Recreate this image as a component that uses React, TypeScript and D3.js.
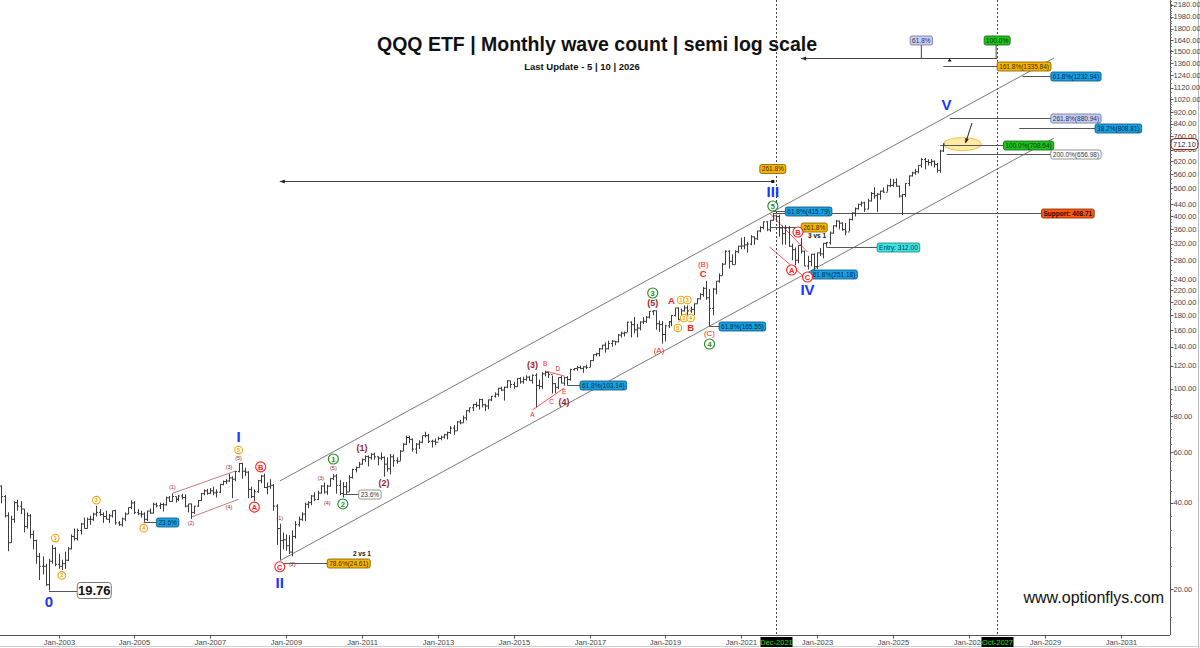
import * as d3 from "d3";

const FONT = "'Liberation Sans', Arial, Helvetica, sans-serif";
const W = 1200;
const H = 648;
const PLOT_R = 1170;
const PLOT_B = 635;

// QQQ monthly bars, Jun-2001 .. May-2026 (open = prior close)
const firstMonth = "2001-06";
const firstOpen = 43.0;

const highs = [
  /* 2001 */ 47.5, 46, 42.5, 37, 36, 40.5, 41,
  /* 2002 */ 40.5, 38, 37, 36.5, 32, 29.7, 26.7, 26, 24.5, 25.5, 28.5, 28,
  /* 2003 */ 26.5, 25.3, 27, 28, 31, 32.5, 32.5, 34, 35.5, 35.5, 36, 36.9,
  /* 2004 */ 39, 38, 37, 37.5, 36.5, 37.5, 37.8, 34.5, 35.5, 37, 38.5, 40.8,
  /* 2005 */ 40.5, 38, 37.5, 37, 37.5, 38.2, 40, 40, 40, 40, 42, 42.2,
  /* 2006 */ 43, 42, 42.5, 43, 42.8, 39.6, 39.7, 39, 40.8, 43.2, 44.5, 44.7,
  /* 2007 */ 45, 45.5, 44.5, 46.5, 47.8, 48.3, 50.5, 49.4, 51.5, 55, 55.1, 53,
  /* 2008 */ 51.5, 45.5, 44.5, 48, 50, 50.5, 47, 48.3, 46.5, 39.5, 33.8, 31.5,
  /* 2009 */ 31, 30.8, 32, 34.5, 35.8, 37, 40, 40.5, 42.5, 43.5, 44, 46,
  /* 2010 */ 47, 46.2, 48.8, 50.3, 50.3, 47.9, 47.2, 47.2, 49.9, 52.5, 53.5, 55.5,
  /* 2011 */ 57, 58.5, 58.5, 59.5, 59.8, 58, 59.9, 58, 57.6, 59.2, 59, 57.5,
  /* 2012 */ 61, 64.5, 68.5, 68.5, 67, 64.5, 66, 68.5, 70.7, 69.5, 66.3, 67,
  /* 2013 */ 68, 68.5, 69.5, 70.8, 74, 74.6, 77, 77.8, 80.5, 84, 85.8, 88.5,
  /* 2014 */ 89.7, 92.2, 92.2, 88.5, 91.5, 94.2, 97, 100.5, 101.5, 101.5, 107, 106.5,
  /* 2015 */ 105.5, 108.7, 109.5, 110, 111.2, 110.8, 112, 113, 107.4, 114, 115.2, 114.5,
  /* 2016 */ 111, 104.5, 109, 110.5, 110, 110.5, 117.2, 118, 120, 120.2, 119.6, 121.2,
  /* 2017 */ 125.5, 131.5, 133.2, 138.5, 142, 145, 147, 147.6, 146.5, 155, 158, 158,
  /* 2018 */ 171, 171.5, 177.6, 168, 171.5, 177.5, 179, 186.5, 187.5, 187.3, 172.5, 172,
  /* 2019 */ 167, 172, 180.5, 191, 192, 190, 195, 195, 193, 198, 206.5, 215,
  /* 2020 */ 226, 237.5, 222.5, 224.5, 237, 252, 274, 303.5, 303.5, 293.5, 303.5, 315,
  /* 2021 */ 336, 338, 325, 342.5, 339, 355, 368, 382.5, 382.8, 387, 408.7, 404,
  /* 2022 */ 404, 370.5, 371.5, 369, 320, 310.5, 316.5, 334.5, 302.5, 290.5, 295, 296,
  /* 2023 */ 298, 309, 322, 324.5, 353, 370.5, 387.5, 385, 380, 378, 391, 411.5,
  /* 2024 */ 428, 441, 449.3, 448, 459, 484.5, 503.5, 480, 490.5, 502.5, 514, 539.2,
  /* 2025 */ 538.5, 540.8, 510.5, 477, 520, 553.5, 570.5, 583.3, 601, 637, 637, 630,
  /* 2026 */ 632, 625, 612, 680, 716,
];

const lows = [
  /* 2001 */ 40.5, 39.8, 35.5, 27.1, 29, 34, 37.5,
  /* 2002 */ 36.5, 31.5, 32.5, 30, 27.5, 24.5, 21.5, 22.5, 20.5, 19.76, 24.5, 24,
  /* 2003 */ 23.5, 23.3, 23.5, 25, 27.5, 29.5, 29.5, 31, 32.5, 32.5, 33.5, 34.5,
  /* 2004 */ 35.8, 36, 34, 35, 34, 35.5, 33.5, 33.2, 33, 34.5, 36.5, 38,
  /* 2005 */ 36.5, 36.2, 35.5, 34.3, 34.5, 36.5, 36.6, 38.5, 38, 37.3, 39.1, 40.3,
  /* 2006 */ 40.3, 40, 40.5, 41, 38.5, 37, 35.1, 36.5, 38.7, 40.5, 42.5, 42.6,
  /* 2007 */ 43, 42.5, 41.7, 43.2, 46, 46.5, 47.3, 41.5, 47.5, 51, 48.5, 49.5,
  /* 2008 */ 41.5, 41.5, 40.5, 43.3, 46.8, 45, 42.8, 44.7, 37.5, 28.5, 25.3, 27.5,
  /* 2009 */ 27.2, 26.5, 26, 30, 33, 34.5, 34.5, 38.3, 39.2, 40.5, 40.9, 43,
  /* 2010 */ 43, 42.6, 45.5, 48, 43, 42.5, 41.7, 42.8, 43.7, 48.5, 51, 53,
  /* 2011 */ 54.3, 55.5, 53.5, 56.5, 56.5, 54, 56.3, 49.3, 51.3, 50.2, 53.3, 54.7,
  /* 2012 */ 56, 60.5, 63.5, 64.5, 60.3, 59.2, 61.5, 64.5, 67.5, 64.5, 62.3, 63.5,
  /* 2013 */ 66, 66, 67, 66.5, 69.5, 69, 71.3, 75, 76, 77.5, 82.5, 83.5,
  /* 2014 */ 86, 84.5, 86, 83.5, 84.7, 90.3, 93, 93.8, 98, 90.8, 100.5, 100.5,
  /* 2015 */ 99.8, 101.5, 104, 104, 106.5, 106.5, 104, 86, 99.4, 99.5, 110.4, 108.8,
  /* 2016 */ 96.1, 96.3, 99.5, 104.3, 102.5, 102.8, 106.5, 115.5, 115.4, 116.8, 113.5, 117,
  /* 2017 */ 118.8, 125, 129.5, 129.5, 136.8, 133.5, 137, 139.8, 141.5, 145, 150.6, 152,
  /* 2018 */ 157.5, 150.7, 155.5, 150.8, 159.5, 168, 169.5, 175.5, 180.5, 160.5, 157.8, 143.5,
  /* 2019 */ 146, 162.5, 165, 178.5, 173.3, 172.5, 185.5, 179.8, 183.5, 180.5, 197.5, 204.5,
  /* 2020 */ 209, 204, 164.9, 180, 213, 234, 248, 271, 262, 270, 271, 296.5,
  /* 2021 */ 306, 306, 297.5, 316, 317.5, 329.5, 351, 359, 354, 352, 384.5, 381,
  /* 2022 */ 338.5, 317.5, 317.5, 312, 280, 269.3, 273.5, 296, 267.5, 260.1, 267, 259.5,
  /* 2023 */ 261, 290, 284.5, 312, 317.5, 346.5, 365, 359, 355.5, 342.3, 353.5, 385.5,
  /* 2024 */ 398, 420.5, 431, 413, 421.5, 449.5, 459, 413, 456, 482, 486, 504,
  /* 2025 */ 505, 505.5, 464, 402.4, 466, 508, 549, 556.5, 563, 589, 581, 600,
  /* 2026 */ 598, 590, 566, 565, 668,
];

const closes = [
  /* 2001 */ 45.7, 42, 36, 29, 35, 40, 38.9,
  /* 2002 */ 38, 33, 36, 31, 29.5, 26, 24, 24, 20.7, 25, 27.7, 24.4,
  /* 2003 */ 24, 24.5, 25.2, 27.6, 30.5, 30, 32, 33.7, 32.5, 35, 35, 36.5,
  /* 2004 */ 37, 36.4, 35.8, 35, 36, 37.5, 34, 33.5, 35.1, 36.5, 38.5, 39.9,
  /* 2005 */ 37, 36.6, 36.5, 35, 37.4, 36.8, 39.5, 39, 39.4, 39.3, 41.6, 40.4,
  /* 2006 */ 42, 41.1, 42.2, 41.7, 38.9, 39.6, 37, 38.9, 40.7, 43, 44, 43.1,
  /* 2007 */ 44, 43.3, 43.5, 46.3, 47.4, 47.6, 48.8, 48.3, 51.4, 54.8, 51.5, 51.1,
  /* 2008 */ 44.5, 42, 43.7, 47.7, 49.5, 45.2, 45.5, 46, 38.9, 32.5, 29.5, 29.7,
  /* 2009 */ 28.3, 26.9, 30.5, 33.5, 35, 36.5, 39.5, 40, 42.2, 41, 43.2, 45.7,
  /* 2010 */ 43.6, 45.7, 48.5, 49.5, 46, 43.1, 45.5, 43.6, 49, 52.2, 53, 54.5,
  /* 2011 */ 56.5, 58, 57.4, 59, 57.8, 57.2, 57.5, 54.5, 52.5, 57.8, 56, 55.8,
  /* 2012 */ 60.5, 64, 67.5, 66.5, 61.5, 64, 65, 68.5, 68.5, 65.5, 65.5, 65,
  /* 2013 */ 67, 67.7, 69, 70.3, 72.8, 71.2, 76.5, 75.9, 79, 83.7, 85.7, 88,
  /* 2014 */ 87.3, 91.5, 87.7, 86.9, 91.3, 94, 95.6, 100.2, 98.8, 101.1, 106.4, 103.3,
  /* 2015 */ 101.6, 108.4, 105.6, 107.6, 109.5, 106.8, 111.2, 102.5, 101.7, 112.5, 113.7, 111.9,
  /* 2016 */ 104, 101, 109.3, 104.5, 109.2, 107.5, 116.5, 117.5, 118.5, 117.6, 119, 118.5,
  /* 2017 */ 125.2, 131.3, 132.3, 137.5, 141.7, 137.6, 143.5, 146.3, 145.5, 153.6, 156, 156.5,
  /* 2018 */ 170.4, 167, 160.2, 162.5, 170.6, 171.6, 177.5, 186, 186.8, 168.4, 167.2, 154.3,
  /* 2019 */ 165.5, 170.8, 179.7, 191, 173.9, 186.7, 191.1, 186.5, 188.8, 197.5, 205.5, 212.6,
  /* 2020 */ 223.7, 207.2, 190.4, 222.3, 236.9, 247.6, 271.4, 301.2, 277.8, 270.5, 299.9, 313.7,
  /* 2021 */ 314, 317, 319, 338, 333, 354.4, 364.6, 381.4, 357.9, 386.1, 400.1, 397.9,
  /* 2022 */ 363, 346.5, 362.5, 313.5, 305, 280.3, 315.3, 301.5, 267.3, 277.5, 293.9, 266.3,
  /* 2023 */ 297.3, 294.6, 320.9, 322.6, 348.4, 369.4, 383.7, 377.4, 358.3, 351.7, 388.8, 409.5,
  /* 2024 */ 423.8, 439, 444, 422.5, 451, 479.1, 470.5, 476, 488, 483.9, 509.7, 511.2,
  /* 2025 */ 522.3, 508.2, 468.9, 475, 519.1, 551.6, 565, 570.4, 600.4, 629, 619, 614,
  /* 2026 */ 620, 605, 577, 674, 712.1,
];

const lastPrice = 712.1;

const priceTicks = [
  20, 40, 60, 80, 100, 120, 140, 160, 180, 200, 220, 240, 280, 320, 360, 400, 440, 500,
  560, 620, 680, 760, 840, 920, 1020, 1120, 1240, 1360, 1500, 1640, 1800, 1980, 2180,
];
const yearTicks = [2003, 2005, 2007, 2009, 2011, 2013, 2015, 2017, 2019, 2021, 2023, 2025, 2027, 2029, 2031];
const cycleDates = ["2021-12", "2027-10"];

// elliott wave labels: month, price position, text, style
const waveLabels: [string, number, string, string][] = [
  ["2002-10", 18.0, "0", "major"],
  ["2007-10", 67.8, "I", "major"],
  ["2008-11", 21.1, "II", "major"],
  ["2021-11", 484.7, "III", "major"],
  ["2022-10", 220.6, "IV", "major"],
  ["2026-06", 974, "V", "major"],
  ["2010-04", 56.8, "1", "green"],
  ["2010-07", 39.6, "2", "green"],
  ["2018-09", 215.4, "3", "green"],
  ["2020-03", 143, "4", "green"],
  ["2021-11", 433, "5", "green"],
  ["2002-12", 30.1, "1", "orange"],
  ["2003-02", 22.3, "2", "orange"],
  ["2004-01", 40.8, "3", "orange"],
  ["2005-04", 32.6, "4", "orange"],
  ["2007-10", 61.0, "5", "orange"],
  ["2019-06", 203.6, "1", "orange"],
  ["2019-07", 176.2, "2", "orange"],
  ["2019-08", 203.6, "3", "orange"],
  ["2019-09", 176.2, "4", "orange"],
  ["2019-05", 162.6, "5", "orange"],
  ["2008-03", 38.6, "A", "redc"],
  ["2008-05", 53.3, "B", "redc"],
  ["2008-11", 23.9, "C", "redc"],
  ["2022-05", 259, "A", "redc"],
  ["2022-07", 351.5, "B", "redc"],
  ["2022-10", 244.9, "C", "redc"],
  ["2019-03", 202, "A", "red"],
  ["2019-09", 163.4, "B", "red"],
  ["2020-01", 271.9, "(B)", "redp"],
  ["2020-01", 250.9, "C", "red"],
  ["2020-03", 156.2, "(C)", "redp"],
  ["2018-11", 136.3, "(A)", "redp"],
  ["2015-07", 80.9, "A", "redsm"],
  ["2015-11", 121.8, "B", "redsm"],
  ["2016-01", 89.8, "C", "redsm"],
  ["2016-03", 117, "D", "redsm"],
  ["2016-05", 97.3, "E", "redsm"],
  ["2011-01", 62.2, "(1)", "maroon"],
  ["2011-08", 46.9, "(2)", "maroon"],
  ["2015-07", 120.8, "(3)", "maroon"],
  ["2016-05", 89.8, "(4)", "maroon"],
  ["2018-09", 198.7, "(5)", "maroon"],
  ["2006-01", 45.3, "(1)", "maroonsm"],
  ["2006-07", 34.0, "(2)", "maroonsm"],
  ["2007-07", 53.3, "(3)", "maroonsm"],
  ["2007-07", 38.6, "(4)", "maroonsm"],
  ["2007-10", 57.3, "(5)", "maroonsm"],
  ["2008-11", 35.3, "(1)", "maroonsm"],
  ["2009-03", 24.4, "(2)", "maroonsm"],
  ["2009-12", 48.9, "(3)", "maroonsm"],
  ["2010-02", 39.9, "(4)", "maroonsm"],
  ["2010-04", 52.9, "(5)", "maroonsm"],
];

// fib / level boxes: text, price, line start month, box left month, style
const levelBoxes: [string, number, string, string, string][] = [
  ["161.8%(1335.84)", 1335.84, "2026-05", "2027-10", "gold"],
  ["61.8%(1232.94)", 1232.94, "2028-06", "2029-03", "blue"],
  ["261.8%(880.94)", 880.94, "2026-07", "2029-03", "lilac"],
  ["38.2%(808.81)", 808.81, "2028-05", "2030-05", "blue"],
  ["100.0%(708.64)", 708.64, "2026-04", "2027-12", "green"],
  ["200.0%(656.98)", 656.98, "2026-06", "2029-03", "white"],
  ["Support: 408.71", 408.71, "2021-11", "2028-12", "support"],
  ["61.8%(415.79)", 415.79, "2021-11", "2022-03", "blue"],
  ["261.8%", 365.9, "2021-10", "2022-08", "gold"],
  ["Entry: 312.00", 312, "2023-04", "2024-08", "cyan"],
  ["61.8%(251.18)", 251.18, "2022-10", "2022-11", "blue"],
  ["61.8%(165.55)", 165.55, "2020-03", "2020-06", "blue"],
  ["61.8%(103.14)", 103.14, "2016-06", "2016-10", "blue"],
  ["23.6%", 42.9, "2010-07", "2010-12", "white"],
  ["78.6%(24.61)", 24.61, "2008-11", "2010-02", "gold"],
  ["23.6%", 34.3, "2005-04", "2005-08", "blue"],
];

// boxes centred on a month (no leader line)
const topBoxes: [string, number, string, string][] = [
  ["61.8%", 1636, "2025-10", "lilac"],
  ["100.0%", 1636, "2027-10", "green"],
  ["261.8%", 583, "2021-11", "gold"],
];

// trend channel and pattern lines: [month, price] -> [month, price], colour
const trendLines: [string, number, string, number, string][] = [
  ["2008-11", 47.6, "2029-04", 1421, "#7a7a7a"],
  ["2008-11", 25.1, "2029-04", 747.6, "#7a7a7a"],
  ["2021-10", 408.7, "2022-10", 299.4, "#ff4040"],
  ["2021-10", 311.6, "2022-09", 244.9, "#ff4040"],
  ["2015-07", 84.2, "2016-05", 100.4, "#ff4040"],
  ["2015-11", 115.1, "2016-05", 110.6, "#ff4040"],
  ["2006-01", 43.1, "2007-09", 51.6, "#c46a6a"],
  ["2006-07", 35.6, "2007-10", 41.1, "#c46a6a"],
  ["2019-05", 169.5, "2019-09", 190.4, "#f5a000"],
];

// long horizontal projections with arrow heads at their left ends
const arrowLines: [string, string, number][] = [
  ["2022-08", "2027-10", 1421],
  ["2008-11", "2021-11", 529.4],
];

const textNotes: [string, number, string][] = [
  ["2011-01", 26.5, "2 vs 1"],
  ["2023-01", 340.4, "3 vs 1"],
];

const boxStyles: Record<string, { fill: string; stroke: string; color: string; weight?: string }> = {
  gold: { fill: "#f7b500", stroke: "#7a5a00", color: "#3a2a00" },
  blue: { fill: "#16a3e6", stroke: "#0b4f75", color: "#0a2340" },
  lilac: { fill: "#c8cff2", stroke: "#6a6f95", color: "#2a2f55" },
  green: { fill: "#1dc41d", stroke: "#145f14", color: "#053005" },
  white: { fill: "#ffffff", stroke: "#7a7a7a", color: "#333333" },
  cyan: { fill: "#3fe4e4", stroke: "#1d7c7c", color: "#053a3a" },
  support: { fill: "#ff5a0a", stroke: "#7a2500", color: "#1a0a00", weight: "bold" },
};

const parseMonth = d3.utcParse("%Y-%m");
const m = (s: string) => parseMonth(s) as Date;

let ctx: CanvasRenderingContext2D | null = null;
function textWidth(s: string, font: string): number {
  if (!ctx) ctx = document.createElement("canvas").getContext("2d");
  if (!ctx) return s.length * 4;
  ctx.font = font;
  return ctx.measureText(s).width;
}

function LevelBox({ x, cy, text, kind, size = 6.5, center = false }: {
  x: number; cy: number; text: string; kind: string; size?: number; center?: boolean;
}) {
  const st = boxStyles[kind];
  const weight = st.weight ?? "normal";
  const w = textWidth(text, `${weight} ${size}px ${FONT}`) + 4;
  const h = size + 2.5;
  const left = center ? x - w / 2 : x;
  return (
    <g>
      <rect x={left} y={cy - h / 2} width={w} height={h} rx={2} fill={st.fill} stroke={st.stroke} strokeWidth={0.8} />
      <text x={left + w / 2} y={cy} dy="0.35em" textAnchor="middle" fontSize={size} fontWeight={weight} fill={st.color}>
        {text}
      </text>
    </g>
  );
}

function WaveLabel({ x, y, text, kind }: { x: number; y: number; text: string; kind: string }) {
  if (kind === "major")
    return <text x={x} y={y} dy="0.35em" textAnchor="middle" fontSize={15} fontWeight="bold" fill="#1a35ff">{text}</text>;
  if (kind === "green" || kind === "orange" || kind === "redc") {
    const col = kind === "green" ? "#1c8a1c" : kind === "orange" ? "#f5a000" : "#ff2020";
    const r = kind === "orange" ? 3.8 : 5;
    const fs = kind === "orange" ? 5.5 : 7.5;
    return (
      <g>
        <circle cx={x} cy={y} r={r} fill="#fff" stroke={col} strokeWidth={1.1} />
        <text x={x} y={y} dy="0.36em" textAnchor="middle" fontSize={fs} fontWeight="bold" fill={col}>{text}</text>
      </g>
    );
  }
  const look: Record<string, [number, string, string]> = {
    red: [9.5, "bold", "#ff2020"],
    redp: [8, "normal", "#ff2020"],
    redsm: [6.5, "normal", "#ff2020"],
    maroon: [9, "bold", "#9c1f2e"],
    maroonsm: [5.5, "normal", "#9c1f2e"],
  };
  const [fs, fw, col] = look[kind];
  return <text x={x} y={y} dy="0.35em" textAnchor="middle" fontSize={fs} fontWeight={fw} fill={col}>{text}</text>;
}

export default function App() {
  const x = d3.scaleUtc().domain([m("2003-01"), m("2031-01")]).range([58.5, 1120.5]);
  const y = d3.scaleLog().domain([20, 1240]).range([589, 75]);

  const t0 = m(firstMonth);
  const bars = closes.map((c, i) => ({
    date: d3.utcMonth.offset(t0, i),
    open: i === 0 ? firstOpen : closes[i - 1],
    high: highs[i],
    low: lows[i],
    close: c,
  }));

  let barPath = "";
  for (const b of bars) {
    const bx = Math.round(x(b.date)) + 0.5;
    barPath += `M${bx},${y(b.high)}V${y(b.low)}M${bx - 1.5},${y(b.open)}H${bx}M${bx},${y(b.close)}H${bx + 1.5}`;
  }

  const minorTicks = [
    ...d3.range(16, 100, 4),
    ...d3.range(100, 400, 10),
    ...d3.range(400, 1000, 20),
    ...d3.range(1000, 2300, 40),
  ].filter((v) => y(v) > 0 && y(v) < PLOT_B);

  const fmtTick = d3.utcFormat("%b-%Y");
  const ell = { cx: x(m("2026-11")), cy: y(lastPrice) };
  const arrowFrom = { x: x(m("2027-02")), y: y(843.6) };
  const arrowTo = { x: x(m("2026-12")), y: y(718) };
  const ang = Math.atan2(arrowTo.y - arrowFrom.y, arrowTo.x - arrowFrom.x);

  return (
    <svg
      width={W}
      height={H}
      viewBox={`0 0 ${W} ${H}`}
      style={{ position: "absolute", left: 0, top: 0, background: "#fff" }}
      fontFamily={FONT}
    >
      <defs>
        <clipPath id="plot">
          <rect x={0} y={0} width={PLOT_R} height={PLOT_B} />
        </clipPath>
      </defs>

      {/* title */}
      <text x={597} y={51} textAnchor="middle" fontSize={19.5} fontWeight="bold" fill="#111">
        QQQ ETF | Monthly wave count | semi log scale
      </text>
      <text x={582} y={70} textAnchor="middle" fontSize={9.5} fontWeight="bold" fill="#111">
        Last Update - 5 | 10 | 2026
      </text>

      {/* cycle date markers */}
      {cycleDates.map((d) => (
        <line key={d} x1={Math.round(x(m(d))) + 0.5} x2={Math.round(x(m(d))) + 0.5} y1={0} y2={PLOT_B}
          stroke="#444" strokeWidth={1} strokeDasharray="2,2" />
      ))}

      <g clipPath="url(#plot)">
        {/* channel & pattern lines */}
        {trendLines.map(([d1, v1, d2, v2, c], i) => (
          <line key={i} x1={x(m(d1))} y1={y(v1)} x2={x(m(d2))} y2={y(v2)} stroke={c} strokeWidth={i < 2 ? 1 : 0.9} />
        ))}

        {/* projection arrows */}
        {arrowLines.map(([d1, d2, v], i) => {
          const x1 = x(m(d1));
          const yy = Math.round(y(v)) + 0.5;
          return (
            <g key={i}>
              <line x1={x1} x2={x(m(d2))} y1={yy} y2={yy} stroke="#444" strokeWidth={1} />
              <path d={`M${x1},${yy}L${x1 + 5},${yy - 2}L${x1 + 5},${yy + 2}Z`} fill="#222" />
            </g>
          );
        })}
        <rect x={x(m("2021-11")) - 1.5} y={y(529.4) - 1} width={3} height={3} fill="#111" />
        <path d={`M${x(m("2026-07"))},${y(1421) + 0.5}l-2,3h4z`} fill="#111" />
        {/* connectors from top boxes */}
        <line x1={x(m("2025-10"))} x2={x(m("2025-10"))} y1={y(1636) + 4} y2={y(1421)} stroke="#444" />
        <line x1={x(m("2027-10")) - 1} x2={x(m("2027-10")) - 1} y1={y(1636) + 4} y2={y(1421)} stroke="#444" />

        {/* level leader lines */}
        {levelBoxes.map(([t, v, d1, d2], i) => {
          const yy = Math.round(y(v)) + 0.5;
          return <line key={i} x1={x(m(d1))} x2={x(m(d2))} y1={yy} y2={yy} stroke="#555" strokeWidth={1} />;
        })}
        {/* 19.76 leader */}
        <line x1={x(m("2002-10"))} x2={x(m("2003-07"))} y1={Math.round(y(19.76)) + 0.5} y2={Math.round(y(19.76)) + 0.5} stroke="#555" />

        {/* target ellipse */}
        <ellipse cx={ell.cx} cy={ell.cy} rx={19} ry={6.5} fill="#fde58a" fillOpacity={0.75} stroke="#f2c14e" strokeWidth={1} />
        <line x1={x(m("2026-04"))} x2={x(m("2027-12"))} y1={Math.round(y(708.64)) + 0.5} y2={Math.round(y(708.64)) + 0.5} stroke="#555" />

        {/* bars */}
        <path d={barPath} fill="none" stroke="#3c3c3c" strokeWidth={1} />

        <line x1={arrowFrom.x} y1={arrowFrom.y} x2={arrowTo.x} y2={arrowTo.y} stroke="#222" strokeWidth={1} />
        <path
          d={`M${arrowTo.x},${arrowTo.y}L${arrowTo.x - 5 * Math.cos(ang - 0.4)},${arrowTo.y - 5 * Math.sin(ang - 0.4)}L${arrowTo.x - 5 * Math.cos(ang + 0.4)},${arrowTo.y - 5 * Math.sin(ang + 0.4)}Z`}
          fill="#222"
        />

        {/* level boxes */}
        {levelBoxes.map(([t, v, , d2, k], i) => (
          <LevelBox key={i} x={x(m(d2))} cy={Math.round(y(v)) + 0.5} text={t} kind={k} />
        ))}
        {topBoxes.map(([t, v, d, k], i) => (
          <LevelBox key={i} x={x(m(d))} cy={y(v)} text={t} kind={k} center />
        ))}

        {/* 19.76 low */}
        <g>
          <rect x={x(m("2003-07"))} y={y(19.76) - 8} width={34} height={16} rx={3} fill="#fff" stroke="#777" strokeWidth={1} />
          <text x={x(m("2003-07")) + 17} y={y(19.76)} dy="0.36em" textAnchor="middle" fontSize={13} fontWeight="bold" fill="#111">19.76</text>
        </g>

        {/* wave labels */}
        {waveLabels.map(([d, v, t, k], i) => (
          <WaveLabel key={i} x={x(m(d))} y={y(v)} text={t} kind={k} />
        ))}
        {textNotes.map(([d, v, t], i) => (
          <text key={i} x={x(m(d))} y={y(v)} dy="0.35em" textAnchor="middle" fontSize={6.5} fontWeight="bold" fill="#111">{t}</text>
        ))}
      </g>

      <text x={1164} y={603} textAnchor="end" fontSize={16} fill="#111">www.optionflys.com</text>

      {/* frame */}
      <line x1={PLOT_R + 0.5} x2={PLOT_R + 0.5} y1={0} y2={PLOT_B} stroke="#555" />
      <line x1={0} x2={PLOT_R} y1={PLOT_B + 0.5} y2={PLOT_B + 0.5} stroke="#555" />
      <line x1={1198.5} x2={1198.5} y1={0} y2={H} stroke="#bbb" />
      <line x1={0} x2={W} y1={646.5} y2={646.5} stroke="#ccc" />

      {/* price axis */}
      {minorTicks.map((v, i) => (
        <line key={i} x1={PLOT_R} x2={PLOT_R + 2} y1={Math.round(y(v)) + 0.5} y2={Math.round(y(v)) + 0.5} stroke="#777" />
      ))}
      {priceTicks.map((v) => (
        <g key={v}>
          <line x1={PLOT_R} x2={PLOT_R + 3.5} y1={Math.round(y(v)) + 0.5} y2={Math.round(y(v)) + 0.5} stroke="#555" />
          <text x={PLOT_R + 3.5} y={y(v)} dy="0.35em" fontSize={7.5} fill="#444">{d3.format(".2f")(v)}</text>
        </g>
      ))}
      <rect x={PLOT_R + 1} y={y(lastPrice) - 5.5} width={27} height={11} rx={4} fill="#fff" stroke="#8b1a1a" strokeWidth={1} />
      <text x={PLOT_R + 14.5} y={y(lastPrice)} dy="0.35em" textAnchor="middle" fontSize={7.5} fill="#333">
        {d3.format(".2f")(lastPrice)}
      </text>

      {/* time axis */}
      {yearTicks.map((yr) => {
        const d = new Date(Date.UTC(yr, 0, 1));
        const tx = Math.round(x(d)) + 0.5;
        return (
          <g key={yr}>
            <line x1={tx} x2={tx} y1={PLOT_B} y2={PLOT_B + 3.5} stroke="#555" />
            <text x={tx} y={642} dy="0.35em" textAnchor="middle" fontSize={7.5} fill="#444">{fmtTick(d)}</text>
          </g>
        );
      })}
      {cycleDates.map((d) => {
        const cx = Math.round(x(m(d))) + 0.5;
        return (
          <g key={d}>
            <rect x={cx - 16} y={637} width={32} height={10} fill="#000" />
            <text x={cx} y={642} dy="0.35em" textAnchor="middle" fontSize={7.5} fill="#19e619">{fmtTick(m(d))}</text>
          </g>
        );
      })}
    </svg>
  );
}
